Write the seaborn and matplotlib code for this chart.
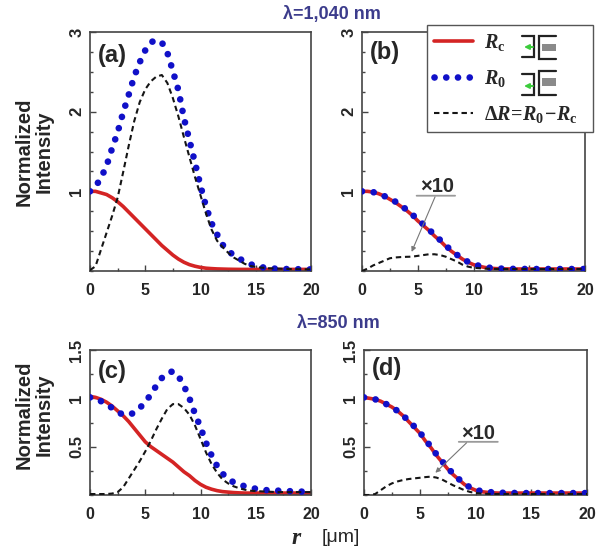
import seaborn as sns
import matplotlib.pyplot as plt
from matplotlib.lines import Line2D
from matplotlib.patches import Rectangle
from matplotlib.ticker import MultipleLocator

# radial position (um)
R_UM = [0, 0.5, 1, 1.5, 2, 2.5, 3, 3.5, 4, 4.5, 5, 5.5, 6, 6.5, 7, 7.5, 8, 8.5,
        9, 9.5, 10, 10.5, 11, 11.5, 12, 12.5, 13, 13.5, 14, 14.5, 15, 16, 17, 18, 19, 20]

# (a) 1040 nm, left
RC_A = [1.00, 1.00, 0.98, 0.96, 0.92, 0.87, 0.81, 0.74, 0.67, 0.60, 0.53, 0.46, 0.39, 0.32,
        0.26, 0.20, 0.15, 0.11, 0.08, 0.06, 0.045, 0.035, 0.03, 0.026, 0.024, 0.022, 0.021,
        0.02, 0.02, 0.02, 0.02, 0.02, 0.02, 0.02, 0.02, 0.02]
RO_A = [1.00, 1.06, 1.17, 1.32, 1.54, 1.74, 1.99, 2.21, 2.44, 2.62, 2.77, 2.87, 2.90, 2.87,
        2.74, 2.51, 2.27, 1.92, 1.64, 1.36, 1.07, 0.81, 0.60, 0.46, 0.33, 0.25, 0.20, 0.155,
        0.12, 0.085, 0.065, 0.035, 0.028, 0.024, 0.022, 0.02]
DR_A = [0.01, 0.06, 0.27, 0.48, 0.69, 0.92, 1.24, 1.57, 1.88, 2.12, 2.28, 2.38, 2.44, 2.46,
        2.36, 2.17, 1.94, 1.68, 1.43, 1.18, 0.95, 0.72, 0.52, 0.38, 0.30, 0.23, 0.17, 0.13,
        0.09, 0.065, 0.05, 0.035, 0.03, 0.025, 0.022, 0.02]

# (b) 1040 nm, right (delta R shown x10)
RC_B = [1.00, 1.00, 0.99, 0.97, 0.94, 0.90, 0.86, 0.81, 0.76, 0.70, 0.63, 0.57, 0.51, 0.44,
        0.38, 0.31, 0.25, 0.20, 0.15, 0.11, 0.08, 0.06, 0.045, 0.035, 0.03, 0.028, 0.026,
        0.025, 0.025, 0.025, 0.025, 0.025, 0.025, 0.025, 0.025, 0.025]
RO_B = [1.00, 1.00, 0.99, 0.97, 0.94, 0.91, 0.87, 0.82, 0.77, 0.71, 0.645, 0.585, 0.52, 0.455,
        0.39, 0.32, 0.26, 0.205, 0.155, 0.115, 0.085, 0.065, 0.05, 0.04, 0.033, 0.03, 0.028,
        0.027, 0.026, 0.026, 0.025, 0.025, 0.025, 0.025, 0.025, 0.025]
DR_B = [0.0, 0.03, 0.07, 0.10, 0.13, 0.16, 0.17, 0.175, 0.178, 0.18, 0.19, 0.20, 0.21, 0.21,
        0.20, 0.18, 0.15, 0.12, 0.08, 0.055, 0.04, 0.035, 0.03, 0.028, 0.026, 0.025, 0.025,
        0.025, 0.025, 0.025, 0.025, 0.025, 0.025, 0.025, 0.025, 0.025]

# (c) 850 nm, left
RC_C = [1.02, 1.01, 0.99, 0.96, 0.92, 0.87, 0.82, 0.76, 0.69, 0.62, 0.55, 0.50, 0.46, 0.42,
        0.38, 0.34, 0.29, 0.24, 0.20, 0.15, 0.11, 0.08, 0.06, 0.045, 0.035, 0.03, 0.025,
        0.022, 0.02, 0.02, 0.02, 0.02, 0.02, 0.02, 0.02, 0.02]
RO_C = [1.01, 1.00, 0.97, 0.94, 0.90, 0.86, 0.83, 0.83, 0.85, 0.90, 0.96, 1.04, 1.13, 1.21,
        1.26, 1.28, 1.23, 1.13, 1.00, 0.84, 0.70, 0.54, 0.41, 0.30, 0.22, 0.17, 0.13, 0.11,
        0.09, 0.075, 0.065, 0.05, 0.045, 0.04, 0.035, 0.035]
DR_C = [0.01, 0.01, 0.01, 0.01, 0.015, 0.03, 0.08, 0.17, 0.26, 0.35, 0.45, 0.56, 0.68, 0.79,
        0.89, 0.94, 0.94, 0.90, 0.83, 0.72, 0.58, 0.44, 0.32, 0.23, 0.16, 0.12, 0.09, 0.07,
        0.055, 0.045, 0.04, 0.035, 0.03, 0.03, 0.03, 0.03]

# (d) 850 nm, right (delta R shown x10)
RC_D = [1.01, 1.00, 0.99, 0.97, 0.94, 0.91, 0.87, 0.82, 0.76, 0.70, 0.64, 0.56, 0.49, 0.41,
        0.34, 0.27, 0.21, 0.16, 0.11, 0.075, 0.05, 0.035, 0.028, 0.023, 0.02, 0.02, 0.02,
        0.02, 0.02, 0.02, 0.02, 0.02, 0.02, 0.02, 0.02, 0.02]
RO_D = [1.01, 1.00, 0.99, 0.97, 0.94, 0.91, 0.87, 0.82, 0.77, 0.71, 0.65, 0.57, 0.50, 0.42,
        0.35, 0.28, 0.22, 0.165, 0.115, 0.08, 0.055, 0.04, 0.033, 0.028, 0.025, 0.023, 0.022,
        0.021, 0.02, 0.02, 0.02, 0.02, 0.02, 0.02, 0.02, 0.02]
DR_D = [0.0, 0.0, 0.01, 0.05, 0.09, 0.12, 0.14, 0.155, 0.165, 0.172, 0.178, 0.185, 0.19, 0.18,
        0.16, 0.13, 0.10, 0.075, 0.05, 0.032, 0.02, 0.015, 0.012, 0.01, 0.01, 0.01, 0.01,
        0.01, 0.01, 0.01, 0.01, 0.01, 0.01, 0.01, 0.01, 0.01]

TOP_YTICKS = [1, 2, 3]
TOP_YLABELS = ['1', '2', '3']
BOT_YTICKS = [0.5, 1, 1.5]
BOT_YLABELS = ['0.5', '1', '1.5']
XTICKS = [0, 5, 10, 15, 20]

RED = '#d42424'
BLUE = '#1010c8'
DASH = '#151515'
FRAME = '#444444'
TITLE_COLOR = '#3c3c8c'
W, H = 600, 554

sns.set_style('ticks')
plt.rcParams['font.family'] = ['Liberation Sans', 'DejaVu Sans']
plt.rcParams['mathtext.fontset'] = 'custom'
plt.rcParams['mathtext.rm'] = 'Liberation Serif:bold'
plt.rcParams['mathtext.it'] = 'Liberation Serif:italic:bold'
plt.rcParams['mathtext.bf'] = 'Liberation Serif:bold'

DOT_LW = 4.8
DOTTED = (0, (0.01, 1.75))
DASHED = (0, (2.6, 1.8))


def px_rect(x0, y0, x1, y1):
    return [x0 / W, 1 - y1 / H, (x1 - x0) / W, (y1 - y0) / H]


def draw_panel(ax, rc, ro, dr, ymax, yticks, ylabels, tag, tag_pos):
    sns.lineplot(x=R_UM, y=rc, ax=ax, color=RED, lw=2.6, legend=False, zorder=2)
    sns.lineplot(x=R_UM, y=ro, ax=ax, color=BLUE, lw=DOT_LW, linestyle=DOTTED,
                 dash_capstyle='round', legend=False, zorder=3)
    sns.lineplot(x=R_UM, y=dr, ax=ax, color=DASH, lw=1.5, linestyle=DASHED,
                 legend=False, zorder=4)
    ax.set_xlim(0, 20)
    ax.set_ylim(0, ymax)
    ax.set_xticks(XTICKS, [str(t) for t in XTICKS])
    ax.set_yticks(yticks, ylabels)
    ax.xaxis.set_minor_locator(MultipleLocator(2.5))
    ax.yaxis.set_minor_locator(MultipleLocator(0.25))
    ax.tick_params(which='both', direction='in', top=False, right=False,
                   color=FRAME, width=1.0)
    ax.tick_params(which='major', length=4)
    ax.tick_params(which='minor', length=2.5)
    ax.tick_params(axis='x', pad=8.5, labelsize=11.5)
    ax.tick_params(axis='y', pad=4, labelsize=12)
    for lab in ax.get_xticklabels() + ax.get_yticklabels():
        lab.set_fontweight('bold')
    for lab in ax.get_yticklabels():
        lab.set_rotation(90)
        lab.set_va('center')
    for sp in ax.spines.values():
        sp.set_visible(True)
        sp.set_color(FRAME)
        sp.set_linewidth(1.2)
    ax.set_xlabel('')
    ax.set_ylabel('')
    ax.text(tag_pos[0], tag_pos[1], tag, transform=ax.transAxes, fontsize=17,
            fontweight='bold', ha='left', va='center')


def mark_x10(ax, text_xy, line_x, line_y, tail, head):
    ax.text(text_xy[0], text_xy[1], '\u00d710', fontsize=14.5, fontweight='bold',
            color='#2a2a2a', ha='center', va='center')
    ax.annotate('', xy=(line_x[1], line_y), xytext=(line_x[0], line_y),
                arrowprops=dict(arrowstyle='-', color='#9a9a9a', lw=1.3,
                                shrinkA=0, shrinkB=0))
    ax.annotate('', xy=head, xytext=tail,
                arrowprops=dict(arrowstyle='-|>', color='#777777', lw=0.8,
                                mutation_scale=7, shrinkA=0, shrinkB=0))


fig = plt.figure(figsize=(6.0, 5.54), dpi=100)
ax_a = fig.add_axes(px_rect(90, 32, 311, 271))
ax_b = fig.add_axes(px_rect(362, 32, 585, 271))
ax_c = fig.add_axes(px_rect(90, 350, 311, 495))
ax_d = fig.add_axes(px_rect(364, 350, 587, 495))

draw_panel(ax_a, RC_A, RO_A, DR_A, 3, TOP_YTICKS, TOP_YLABELS, '(a)', (0.035, 0.9))
draw_panel(ax_b, RC_B, RO_B, DR_B, 3, TOP_YTICKS, TOP_YLABELS, '(b)', (0.035, 0.915))
draw_panel(ax_c, RC_C, RO_C, DR_C, 1.5, BOT_YTICKS, BOT_YLABELS, '(c)', (0.035, 0.855))
draw_panel(ax_d, RC_D, RO_D, DR_D, 1.5, BOT_YTICKS, BOT_YLABELS, '(d)', (0.035, 0.875))

mark_x10(ax_b, (6.7, 1.06), (4.9, 8.35), 0.945, (6.55, 0.93), (4.45, 0.24))
mark_x10(ax_d, (10.25, 0.635), (8.5, 12.0), 0.55, (9.2, 0.54), (6.4, 0.23))

handles = [
    Line2D([], [], color=RED, lw=2.6),
    Line2D([], [], color=BLUE, lw=DOT_LW, linestyle=DOTTED, dash_capstyle='round'),
    Line2D([], [], color=DASH, lw=1.5, linestyle=DASHED),
]
labels = [r'$R_\mathrm{c}$', r'$R_\mathrm{0}$',
          r'$\Delta R\!=\!R_\mathrm{0}\!-\!R_\mathrm{c}$']
leg = ax_b.legend(handles, labels, loc='upper left', mode='expand',
                  bbox_to_anchor=(427 / W, 1 - 132 / H, 166 / W, 107 / H),
                  bbox_transform=fig.transFigure, borderaxespad=0, frameon=True,
                  fancybox=False, edgecolor='#555555', framealpha=1, fontsize=14.5,
                  handlelength=1.95, handletextpad=0.55, labelspacing=0.75, borderpad=0.35)
leg.get_frame().set_linewidth(1.0)

# overlay in pixel units for titles, shared labels and the legend icons
ov = fig.add_axes([0, 0, 1, 1], zorder=10)
ov.patch.set_alpha(0)
ov.set_xlim(0, W)
ov.set_ylim(H, 0)
ov.axis('off')

ov.text(332, 14, '\u03bb=1,040 nm', ha='center', va='center', color=TITLE_COLOR,
        fontsize=13, fontweight='bold')
ov.text(338, 323, '\u03bb=850 nm', ha='center', va='center', color=TITLE_COLOR,
        fontsize=13, fontweight='bold')
for yc in (152, 415):
    ov.text(34, yc, 'Normalized\nIntensity', rotation=90, ha='center', va='center',
            multialignment='center', fontsize=14.5, fontweight='bold', linespacing=1.1)
ov.text(296, 538, 'r', ha='center', va='center', family='Liberation Serif',
        style='italic', fontweight='bold', fontsize=17)
ov.text(322, 537, '[\u03bcm]', ha='left', va='center', fontsize=14)


def draw_icon(left_top, left_bot, right_top, right_bot, rect_y, rect_h, arrow_y):
    ov.plot([522, 534, 534, 522], [left_top, left_top, left_bot, left_bot],
            color='#222222', lw=1.6, solid_joinstyle='miter')
    ov.plot([556, 539, 539, 556], [right_top, right_top, right_bot, right_bot],
            color='#222222', lw=1.6, solid_joinstyle='miter')
    ov.add_patch(Rectangle((541.5, rect_y), 14, rect_h, color='#8a8a8a', lw=0))
    ov.annotate('', xy=(524, arrow_y), xytext=(533, arrow_y),
                arrowprops=dict(arrowstyle='-|>', color='#3ccc3c', lw=1.4,
                                mutation_scale=7, shrinkA=0, shrinkB=0))


draw_icon(36, 57, 36, 58.5, 43.5, 7, 47)
draw_icon(74, 95, 71, 95, 78, 8, 86)

fig.savefig('out.png', dpi=100)
